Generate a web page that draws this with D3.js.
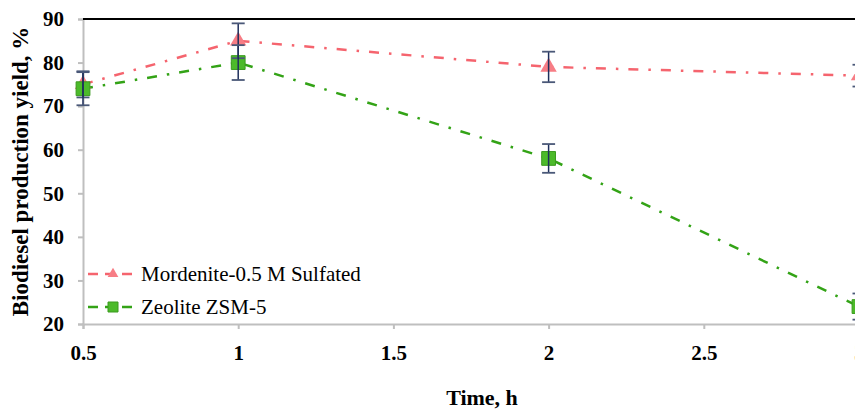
<!DOCTYPE html>
<html>
<head>
<meta charset="utf-8">
<script src="https://cdn.jsdelivr.net/npm/d3@7"></script>
<style>
    body { margin: 0; background: #fff; }
    svg { display: block; }
    svg text { font-family: "Liberation Serif", "Times New Roman", serif; fill: #000; }
    .tick text { font-weight: bold; font-size: 21px; }
</style>
</head>
<body>
<div id="chart"></div>
<script>
// data
const times = [0.5, 1, 2, 3];
const mordenite = [75, 85, 79, 77];
const mordeniteErr = [3, 4, 3.5, 2.5];
const zeolite = [74, 80, 58, 24];
const zeoliteErr = [3.8, 4, 3.3, 3];
const xTicks = [0.5, 1, 1.5, 2, 2.5, 3];
const yTicks = [20, 30, 40, 50, 60, 70, 80, 90];

const width = 855, height = 412;
const margin = {top: 19, left: 83, bottom: 88};

const svg = d3.select("#chart").append("svg")
    .attr("width", width)
    .attr("height", height);

const x = d3.scaleLinear().domain([0.5, 3]).range([margin.left, 859]);
const y = d3.scaleLinear().domain([20, 90]).range([height - margin.bottom, margin.top]);

// axes
const xAxis = svg.append("g")
    .attr("transform", `translate(0, ${y(20)})`)
    .call(d3.axisBottom(x).tickValues(xTicks).tickSize(5).tickPadding(16).tickFormat(d3.format("")));
const yAxis = svg.append("g")
    .attr("transform", `translate(${x(0.5)}, 0)`)
    .call(d3.axisLeft(y).tickValues(yTicks).tickSize(5).tickPadding(14));

[xAxis, yAxis].forEach(a => {
    a.attr("font-family", null).attr("font-size", null);
    a.select(".domain").attr("stroke", "#bfbfbf").attr("stroke-width", 2);
    a.selectAll(".tick line").attr("stroke", "#bfbfbf").attr("stroke-width", 2);
});

// black top border
svg.append("line")
    .attr("x1", x(0.5)).attr("x2", width)
    .attr("y1", y(90)).attr("y2", y(90))
    .attr("stroke", "#000").attr("stroke-width", 2);

const series = [
    {name: "Mordenite-0.5 M Sulfated", values: mordenite, err: mordeniteErr, line: "#f5646e", fill: "#f77d85", shape: d3.symbolTriangle, size: 115, legendSize: 50},
    {name: "Zeolite ZSM-5", values: zeolite, err: zeoliteErr, line: "#33a316", fill: "#4cba2a", shape: d3.symbolSquare, size: 190, legendSize: 100}
];

const line = d3.line().x(d => x(d[0])).y(d => y(d[1]));

series.forEach(s => {
    const pts = times.map((t, i) => [t, s.values[i]]);
    svg.append("path")
        .datum(pts)
        .attr("d", line)
        .attr("fill", "none")
        .attr("stroke", s.line)
        .attr("stroke-width", 2.5)
        .attr("stroke-dasharray", "10,10,2.5,10");
});

// markers
series.forEach(s => {
    svg.selectAll(null)
        .data(times.map((t, i) => [t, s.values[i]]))
        .enter().append("path")
        .attr("d", d3.symbol().type(s.shape).size(s.size))
        .attr("transform", d => `translate(${x(d[0])}, ${y(d[1])})`)
        .attr("fill", s.fill)
        .attr("stroke", s.shape === d3.symbolSquare ? "#3a9a1e" : "none")
        .attr("stroke-width", 1);
});

// error bars
series.forEach(s => {
    const g = svg.append("g");
    times.forEach((t, i) => {
        const cx = x(t), lo = y(s.values[i] - s.err[i]), hi = y(s.values[i] + s.err[i]);
        g.append("line").attr("x1", cx).attr("x2", cx).attr("y1", lo).attr("y2", hi)
            .attr("stroke", "#1f2f5c").attr("stroke-width", 1.5);
        [lo, hi].forEach(v => {
            g.append("line").attr("x1", cx - 6.5).attr("x2", cx + 6.5).attr("y1", v).attr("y2", v)
                .attr("stroke", "#4a5878").attr("stroke-width", 1.8);
        });
    });
});

// legend
const legend = svg.append("g").attr("transform", "translate(88, 274)");
series.forEach((s, i) => {
    const row = legend.append("g").attr("transform", `translate(0, ${i * 33})`);
    row.append("line").attr("x1", 0).attr("x2", 44).attr("y1", 0).attr("y2", 0)
        .attr("stroke", s.line).attr("stroke-width", 2.5).attr("stroke-dasharray", "10,7");
    row.append("path")
        .attr("d", d3.symbol().type(s.shape).size(s.legendSize))
        .attr("transform", "translate(25, 0)")
        .attr("fill", s.fill)
        .attr("stroke", s.shape === d3.symbolSquare ? "#3a9a1e" : "none");
    row.append("text")
        .attr("x", 53).attr("y", 7)
        .style("font-size", "21px")
        .text(s.name);
});

// axis titles
svg.append("text")
    .attr("x", 482).attr("y", 405)
    .attr("text-anchor", "middle")
    .style("font-weight", "bold").style("font-size", "22px")
    .text("Time, h");

svg.append("text")
    .attr("transform", `translate(28, ${(y(20) + y(90)) / 2}) rotate(-90)`)
    .attr("text-anchor", "middle")
    .style("font-weight", "bold").style("font-size", "23px")
    .text("Biodiesel production yield, %");
</script>
</body>
</html>
